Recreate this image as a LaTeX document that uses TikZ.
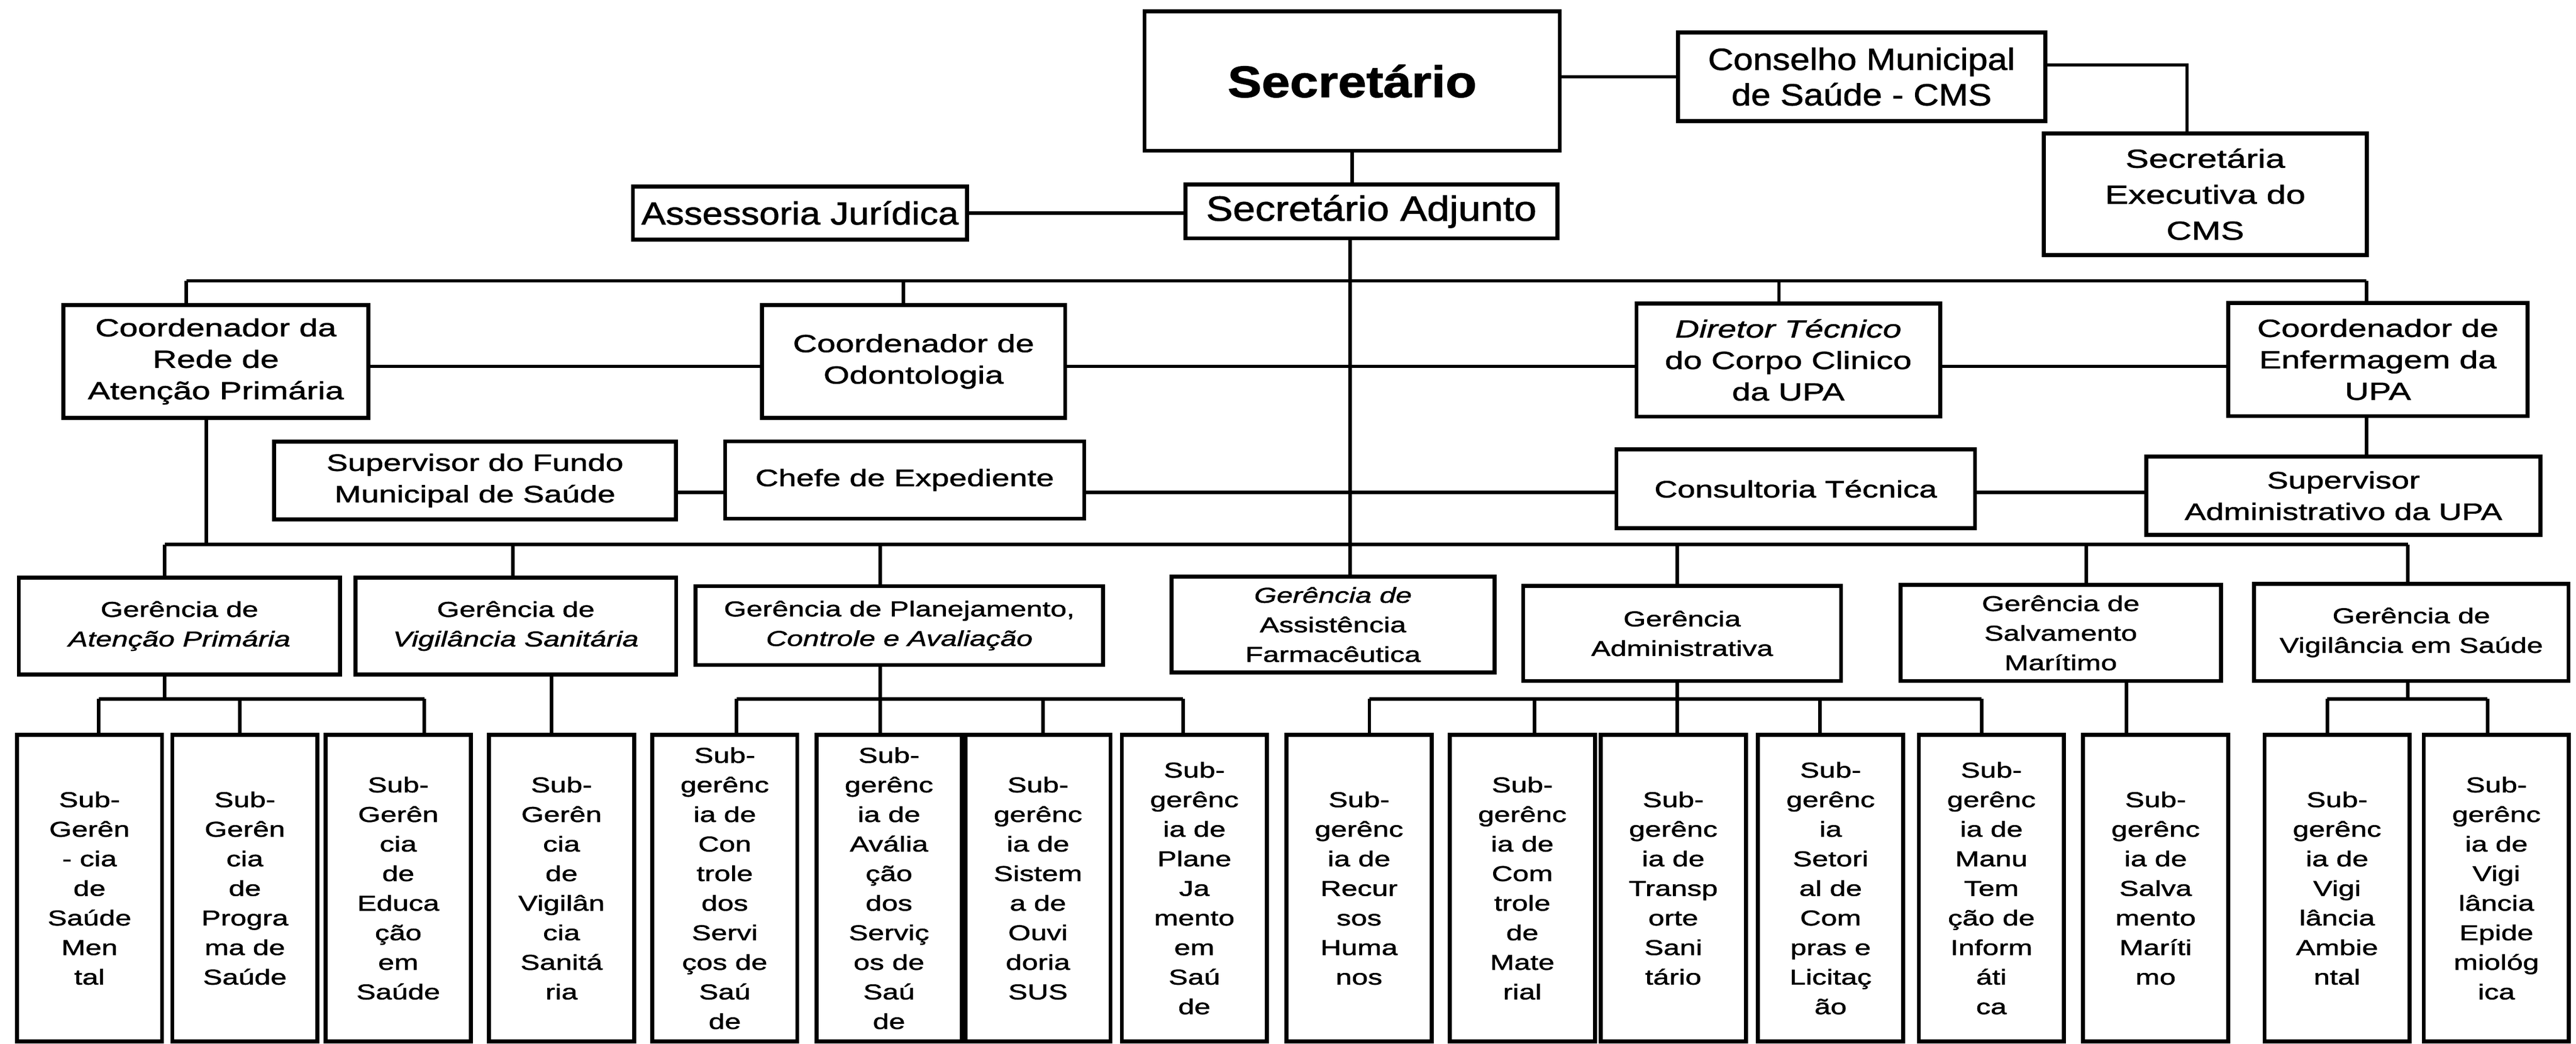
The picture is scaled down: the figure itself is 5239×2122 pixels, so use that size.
\documentclass[tikz,border=0pt]{standalone}
\usepackage{fontspec}
\usepackage{tikz}
\newfontfamily\boxfont[FakeStretch=1.35, FakeBold=1.5]{Liberation Sans}
\newfontfamily\headfont[FakeStretch=1.15, FakeBold=1.5]{Liberation Sans}
\newcommand{\subfnt}{\boxfont\fontsize{12.4}{17.1}\selectfont}
\newcommand{\stafffnt}{\boxfont\fontsize{13.7}{18.2}\selectfont}
\newcommand{\coordfnt}{\boxfont\fontsize{14.3}{18.2}\selectfont}

\begin{document}
\begin{tikzpicture}[x=0.01cm, y=-0.01cm,
    box/.style={draw, line width=2.3pt, inner sep=0pt, align=center},
    sub/.style={box, minimum width=2.95cm, minimum height=6.23cm, font=\subfnt},
    ger/.style={box, font=\subfnt},
    staff/.style={box, font=\stafffnt},
    coord/.style={box, font=\coordfnt, minimum height=2.3cm},
    link/.style={line width=2pt}]
\useasboundingbox (0,0) rectangle (5239,2122);

\node[box, minimum width=8.44cm, minimum height=2.83cm, font=\headfont\fontsize{25.6}{30}\selectfont\bfseries] (sec) at (2750,165) {Secretário};
\node[box, minimum width=7.47cm, minimum height=1.8cm, font=\headfont\fontsize{17.7}{20.5}\selectfont] (cms) at (3786,156) {Conselho Municipal\\de Saúde - CMS};
\node[box, minimum width=6.56cm, minimum height=2.47cm, font=\boxfont\fontsize{15}{20.8}\selectfont] (exe) at (4485,395) {Secretária\\Executiva do\\CMS};
\node[box, minimum width=6.79cm, minimum height=1.08cm, font=\headfont\fontsize{18.4}{21}\selectfont] (ass) at (1627,433) {Assessoria Jurídica};
\node[box, minimum width=7.56cm, minimum height=1.09cm, font=\headfont\fontsize{20.2}{23}\selectfont] (adj) at (2789,430) {Secretário Adjunto};

\node[coord, minimum width=6.2cm] (co1) at (439,735) {Coordenador da\\Rede de\\Atenção Primária};
\node[coord, minimum width=6.16cm] (co2) at (1858,735) {Coordenador de\\Odontologia};
\node[coord, minimum width=6.17cm] (co3) at (3637,732) {\textit{Diretor Técnico}\\do Corpo Clinico\\da UPA};
\node[coord, minimum width=6.09cm] (co4) at (4836,731) {Coordenador de\\Enfermagem da\\UPA};

\node[staff, minimum width=8.17cm, minimum height=1.58cm] (fundo) at (966,977) {Supervisor do Fundo\\Municipal de Saúde};
\node[staff, minimum width=7.3cm, minimum height=1.57cm] (chefe) at (1840,976) {Chefe de Expediente};
\node[staff, minimum width=7.29cm, minimum height=1.6cm] (cons) at (3652,994) {Consultoria Técnica};
\node[staff, minimum width=8.01cm, minimum height=1.59cm] (sa) at (4766,1008) {Supervisor\\Administrativo da UPA};

\node[ger, minimum width=6.53cm, minimum height=1.97cm] (g1) at (365,1273) {Gerência de\\\textit{Atenção Primária}};
\node[ger, minimum width=6.52cm, minimum height=1.97cm] (g2) at (1049,1273) {Gerência de\\\textit{Vigilância Sanitária}};
\node[ger, minimum width=8.28cm, minimum height=1.6cm] (g3) at (1829,1272) {Gerência de Planejamento,\\\textit{Controle e Avaliação}};
\node[ger, minimum width=6.57cm, minimum height=1.95cm] (g4) at (2711,1270) {\textit{Gerência de}\\Assistência\\Farmacêutica};
\node[ger, minimum width=6.46cm, minimum height=1.93cm] (g5) at (3421,1288) {Gerência\\Administrativa};
\node[ger, minimum width=6.51cm, minimum height=1.95cm] (g6) at (4191,1287) {Gerência de\\Salvamento\\Marítimo};
\node[ger, minimum width=6.39cm, minimum height=1.97cm] (g7) at (4904,1286) {Gerência de\\Vigilância em Saúde};

\node[sub] (s1) at (182,1806) {Sub-\\Gerên\\- cia\\de\\Saúde\\Men\\tal};
\node[sub] (s2) at (498,1806) {Sub-\\Gerên\\cia\\de\\Progra\\ma de\\Saúde};
\node[sub] (s3) at (810,1806) {Sub-\\Gerên\\cia\\de\\Educa\\ção\\em\\Saúde};
\node[sub] (s4) at (1142,1806) {Sub-\\Gerên\\cia\\de\\Vigilân\\cia\\Sanitá\\ria};
\node[sub] (s5) at (1474,1806) {Sub-\\gerênc\\ia de\\Con\\trole\\dos\\Servi\\ços de\\Saú\\de};
\node[sub] (s6) at (1808,1806) {Sub-\\gerênc\\ia de\\Avália\\ção\\dos\\Serviç\\os de\\Saú\\de};
\node[sub] (s7) at (2111,1806) {Sub-\\gerênc\\ia de\\Sistem\\a de\\Ouvi\\doria\\SUS};
\node[sub] (s8) at (2429,1806) {Sub-\\gerênc\\ia de\\Plane\\Ja\\mento\\em\\Saú\\de};
\node[sub] (s9) at (2764,1806) {Sub-\\gerênc\\ia de\\Recur\\sos\\Huma\\nos};
\node[sub] (s10) at (3096,1806) {Sub-\\gerênc\\ia de\\Com\\trole\\de\\Mate\\rial};
\node[sub] (s11) at (3403,1806) {Sub-\\gerênc\\ia de\\Transp\\orte\\Sani\\tário};
\node[sub] (s12) at (3723,1806) {Sub-\\gerênc\\ia\\Setori\\al de\\Com\\pras e\\Licitaç\\ão};
\node[sub] (s13) at (4050,1806) {Sub-\\gerênc\\ia de\\Manu\\Tem\\ção de\\Inform\\áti\\ca};
\node[sub] (s14) at (4384,1806) {Sub-\\gerênc\\ia de\\Salva\\mento\\Maríti\\mo};
\node[sub] (s15) at (4753,1806) {Sub-\\gerênc\\ia de\\Vigi\\lância\\Ambie\\ntal};
\node[sub] (s16) at (5077,1806) {Sub-\\gerênc\\ia de\\Vigi\\lância\\Epide\\miológ\\ica};

\coordinate (r2) at (0,745);
\coordinate (r3) at (0,1001);
\foreach \n/\x in {1/379, 2/1837, 3/3618, 4/4813}
    \coordinate (t\n) at (\x,571);
\foreach \n/\x in {1/335, 2/1043, 3/1790, 4/2746, 5/3411, 6/4243, 7/4897}
    \coordinate (k\n) at (\x,1107);
\foreach \n/\x in {1/201, 2/488, 3/863, 4/1122, 5/1498, 6/1790, 7/2121, 8/2406, 9/2785, 10/3121, 11/3411, 12/3701, 13/4030, 14/4325, 15/4733, 16/5059}
    \coordinate (c\n) at (\x,1421);

\draw[link] (sec.south) -- (sec.south |- adj.north);
\draw[link] (cms.west) -- (cms.west -| sec.east);
\draw[link] ([yshift=0.24cm]cms.east) -| ([xshift=-0.37cm]exe.north);
\draw[link] (ass.east) -- (ass.east -| adj.west);
\draw[link] (adj.south -| k4) -- (k4);

\draw[link] (t1) -- (t4);
\foreach \n in {1,...,4}
    \draw[link] (t\n) -- (t\n |- co\n.north);
\draw[link] (co1.east |- r2) -- (co2.west |- r2) (co2.east |- r2) -- (co3.west |- r2) (co3.east |- r2) -- (co4.west |- r2);
\draw[link] (co4.south -| t4) -- (sa.north -| t4);
\draw[link] (fundo.east |- r3) -- (chefe.west |- r3) (chefe.east |- r3) -- (cons.west |- r3) (cons.east |- r3) -- (sa.west |- r3);
\draw[link] ([xshift=-0.19cm]co1.south) -- ([xshift=-0.19cm]co1.south |- k1);

\draw[link] (k1) -- (k7);
\foreach \n in {1,...,7}
    \draw[link] (k\n) -- (k\n |- g\n.north);

\draw[link] (g1.south -| k1) -- (k1 |- c1);
\draw[link] (g2.south -| c4) -- (c4);
\draw[link] (g3.south -| c6) -- (c6);
\draw[link] (g5.south -| c11) -- (c11);
\draw[link] (g6.south -| c14) -- (c14);
\draw[link] (g7.south -| k7) -- (k7 |- c15);
\draw[link] (c1) -- (c3) (c5) -- (c8) (c9) -- (c13) (c15) -- (c16);
\foreach \n in {1,...,16}
    \draw[link] (c\n) -- (c\n |- s\n.north);
\end{tikzpicture}
\end{document}
